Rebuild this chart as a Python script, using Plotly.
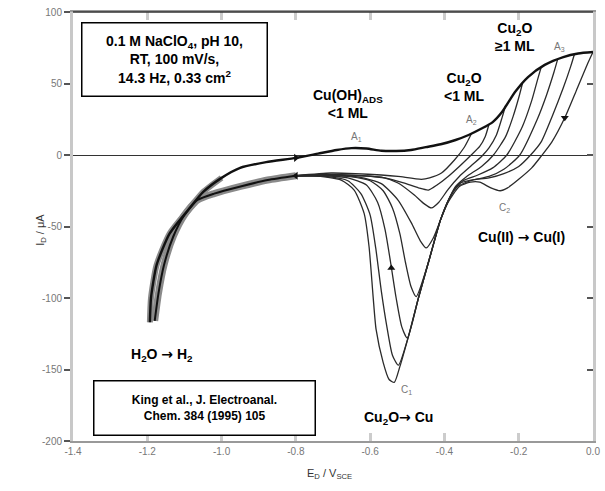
import plotly.graph_objects as go

# ---------------- data ----------------
# common anodic (forward) sweep envelope
E_ENV = [-1.193, -1.19, -1.175, -1.14, -1.09, -1.05, -1.0, -0.95, -0.88, -0.8, -0.74, -0.69,
         -0.65, -0.61, -0.57, -0.53, -0.49, -0.45, -0.41, -0.37, -0.335, -0.3, -0.27, -0.245,
         -0.21, -0.175, -0.13, -0.08, -0.04, 0.0]
I_ENV = [-117, -100, -77, -55, -38.5, -26, -16, -9, -5, -2, 1, 3.5,
         4.8, 4.5, 3, 2.8, 3.5, 5.5, 7.5, 10.5, 14, 18.5, 23, 30,
         44, 54.5, 63, 68.5, 71, 72]

# common cathodic return tail (below -0.8 V)
E_TAIL = [-0.8, -0.876, -0.949, -1.02, -1.065, -1.1, -1.13, -1.155, -1.17, -1.18]
I_TAIL = [-14.5, -17.5, -22, -27, -31.5, -42, -57, -77, -97, -116]

# return (cathodic) branches for the different anodic limits
E_RET_A = [-0.327, -0.346, -0.373, -0.408, -0.44, -0.462, -0.525, -0.57, -0.64, -0.705, -0.8]
I_RET_A = [15, 5.6, -3.5, -12.6, -16, -17, -15, -14, -13, -12.6, -14.5]

E_RET_B = [-0.28, -0.29, -0.305, -0.332, -0.36, -0.39, -0.42, -0.443, -0.47, -0.51, -0.56, -0.62, -0.7, -0.8]
I_RET_B = [21.5, 13, 6, -1, -8, -15, -21, -24.5, -23, -19.5, -16, -14.5, -13.5, -14.5]

E_RET_C = [-0.235, -0.245, -0.26, -0.28, -0.3, -0.33, -0.36, -0.39, -0.415, -0.435, -0.455, -0.481,
           -0.525, -0.57, -0.63, -0.7, -0.8]
I_RET_C = [35, 26, 14, 5, -1, -8, -15, -24, -33, -37, -34, -28, -19.6, -15.5, -14.5, -14, -14.5]

E_RET_D = [-0.19, -0.2, -0.215, -0.235, -0.268, -0.3, -0.34, -0.37, -0.39, -0.41, -0.43, -0.449,
           -0.465, -0.489, -0.525, -0.57, -0.63, -0.7, -0.8]
I_RET_D = [50, 40, 27, 13, 0, -8, -15, -22, -32, -45, -58, -65,
           -60, -47.5, -31.5, -20, -15.5, -14, -14.5]

E_RET_E = [-0.14, -0.15, -0.165, -0.19, -0.232, -0.27, -0.31, -0.35, -0.38, -0.41, -0.443, -0.476,
           -0.49, -0.505, -0.52, -0.54, -0.565, -0.6, -0.66, -0.72, -0.8]
I_RET_E = [61, 52, 38, 20, 0, -9, -14, -18, -27, -45, -75, -99,
           -92, -75, -55, -37, -25, -18, -15, -14, -14.5]

E_RET_F = [-0.095, -0.105, -0.125, -0.15, -0.197, -0.24, -0.28, -0.33, -0.37, -0.41, -0.443, -0.47,
           -0.5, -0.515, -0.53, -0.545, -0.56, -0.58, -0.61, -0.66, -0.72, -0.8]
I_RET_F = [67, 58, 42, 25, 0, -10, -15, -18, -23, -45, -75, -100,
           -128, -120, -100, -75, -52, -33, -21, -16, -14.5, -14.5]

E_RET_G = [-0.05, -0.06, -0.08, -0.11, -0.14, -0.168, -0.2, -0.24, -0.28, -0.327, -0.36, -0.39,
           -0.41, -0.443, -0.47, -0.497, -0.524, -0.54, -0.555, -0.57, -0.585, -0.6, -0.625,
           -0.66, -0.72, -0.8]
I_RET_G = [70.5, 62, 47, 27, 9, 0, -8, -13, -16, -17.5, -20, -32,
           -45, -75, -100, -127, -147, -140, -120, -95, -65, -42, -27,
           -18, -15, -14.5]

E_RET_H = [0.0, -0.016, -0.045, -0.076, -0.111, -0.14, -0.165, -0.2, -0.23, -0.25, -0.275, -0.305,
           -0.33, -0.36, -0.39, -0.41, -0.443, -0.47, -0.497, -0.52, -0.535, -0.549, -0.565,
           -0.584, -0.592, -0.603, -0.616, -0.643, -0.678, -0.75, -0.8]
I_RET_H = [72, 63, 45, 26, 9, -1, -9, -17, -23, -25, -23, -19,
           -19, -22, -33, -45, -75, -100, -127, -148, -159, -157, -145,
           -122, -99, -64, -41, -24.5, -17.5, -14.5, -14.5]

RETURNS = [(E_RET_A, I_RET_A), (E_RET_B, I_RET_B), (E_RET_C, I_RET_C), (E_RET_D, I_RET_D),
           (E_RET_E, I_RET_E), (E_RET_F, I_RET_F), (E_RET_G, I_RET_G), (E_RET_H, I_RET_H)]

# direction arrows on the curves
ARROW_E = [-0.8, -0.8, -0.076, -0.543]
ARROW_I = [-2, -14.5, 26, -79]
ARROW_SYM = ["triangle-right", "triangle-left", "triangle-down", "triangle-up"]

X_TICKS = [-1.4, -1.2, -1.0, -0.8, -0.6, -0.4, -0.2, 0.0]
X_TICK_TEXT = ["-1.4", "-1.2", "-1.0", "-0.8", "-0.6", "-0.4", "-0.2", "0.0"]
Y_TICKS = [100, 50, 0, -50, -100, -150, -200]
Y_TICK_TEXT = ["100", "50", "0", "-50", "-100", "-150", "-200"]

# ---------------- figure ----------------
fig = go.Figure()
LINE = "#2a2a2a"

# gray fuzz of the overlapping cathodic tails
fig.add_trace(go.Scatter(x=E_TAIL, y=I_TAIL, mode="lines",
                         line=dict(color="#8a8a8a", width=7, shape="spline", smoothing=0.6),
                         hoverinfo="skip", showlegend=False))
fig.add_trace(go.Scatter(x=E_ENV[:7], y=I_ENV[:7], mode="lines",
                         line=dict(color="#8a8a8a", width=6, shape="spline", smoothing=0.6),
                         hoverinfo="skip", showlegend=False))

for e, i in RETURNS:
    fig.add_trace(go.Scatter(x=e, y=i, mode="lines", line=dict(color=LINE, width=1.3, shape="spline", smoothing=0.6),
                             hoverinfo="skip", showlegend=False))

fig.add_trace(go.Scatter(x=E_TAIL, y=I_TAIL, mode="lines",
                         line=dict(color="#111", width=2, shape="spline", smoothing=0.6),
                         hoverinfo="skip", showlegend=False))
fig.add_trace(go.Scatter(x=E_ENV, y=I_ENV, mode="lines",
                         line=dict(color="#111", width=2.4, shape="spline", smoothing=0.6),
                         hoverinfo="skip", showlegend=False))

fig.add_trace(go.Scatter(x=ARROW_E, y=ARROW_I, mode="markers",
                         marker=dict(symbol=ARROW_SYM, size=7, color="#111"),
                         hoverinfo="skip", showlegend=False))

FONT = "Liberation Sans, Arial, sans-serif"
TICKFONT = dict(family=FONT, size=10, color="#777")

fig.update_layout(
    width=605, height=491,
    margin=dict(l=73, r=12, t=12, b=50),
    paper_bgcolor="white", plot_bgcolor="white",
    xaxis=dict(range=[-1.4, 0.0], tickvals=X_TICKS, ticktext=X_TICK_TEXT, tickfont=TICKFONT,
               ticks="inside", ticklen=8, tickwidth=3, tickcolor="#ccc", automargin=False,
               showline=True, linecolor="#999", linewidth=2, mirror="ticks",
               showgrid=False, zeroline=False),
    yaxis=dict(range=[-200, 100], tickvals=Y_TICKS, ticktext=Y_TICK_TEXT, tickfont=TICKFONT,
               ticks="outside", ticklen=6, tickwidth=1.5, tickcolor="#555", automargin=False,
               showline=True, linecolor="#c8c8c8", linewidth=3,
               showgrid=False, zeroline=True, zerolinecolor="#333", zerolinewidth=1),
    yaxis2=dict(range=[-200, 100], overlaying="y", side="right", tickvals=Y_TICKS, automargin=False,
                showticklabels=False, ticks="inside", ticklen=6, tickwidth=1.5, tickcolor="#555",
                showline=True, linecolor="#c8c8c8", linewidth=3, showgrid=False, zeroline=False),
)
# invisible trace so yaxis2 is drawn
fig.add_trace(go.Scatter(x=[None], y=[None], yaxis="y2", showlegend=False, hoverinfo="skip"))

# top frame line (dark)
fig.add_shape(type="line", xref="paper", yref="paper", x0=0, x1=1, y0=1, y1=1,
              line=dict(color="#333", width=1.5))

BOLD = dict(family=FONT, size=14, color="black")
SMALL = dict(family=FONT, size=10, color="#777")
ARR = '<span style="font-family:DejaVu Sans">→</span>'

def label(text, x, y, font=BOLD):
    fig.add_annotation(x=x, y=y, xref="x", yref="y", text=text, showarrow=False, font=font,
                       align="center")

label("<b>Cu(OH)<sub>ADS</sub><br>&lt;1 ML</b>", -0.66, 35.5)
label("<b>Cu<sub>2</sub>O<br>&lt;1 ML</b>", -0.346, 47.5)
label("<b>Cu<sub>2</sub>O<br>≥1 ML</b>", -0.211, 82.5)
label("<b>Cu(II) " + ARR + " Cu(I)</b>", -0.192, -57)
label("<b>Cu<sub>2</sub>O" + ARR + " Cu</b>", -0.525, -184)
label("<b>H<sub>2</sub>O " + ARR + " H<sub>2</sub></b>", -1.16, -140)

label("A<sub>1</sub>", -0.638, 12.6, SMALL)
label("A<sub>2</sub>", -0.327, 24.5, SMALL)
label("A<sub>3</sub>", -0.089, 75.5, SMALL)
label("C<sub>2</sub>", -0.238, -37, SMALL)
label("C<sub>1</sub>", -0.503, -164, SMALL)

fig.add_annotation(xref="paper", yref="paper", x=0.195, y=0.890, xanchor="center", yanchor="middle",
                   text="<b>0.1 M NaClO<sub>4</sub>, pH 10,<br>RT, 100 mV/s,<br>14.3 Hz, 0.33 cm<sup>2</sup></b>",
                   showarrow=False, font=BOLD, align="center", bgcolor="white",
                   bordercolor="black", borderwidth=1.5, borderpad=0, width=184, height=72)
fig.add_annotation(xref="paper", yref="paper", x=0.253, y=0.0758, xanchor="center", yanchor="middle",
                   text="<b>King et al., J. Electroanal.<br>Chem. 384 (1995) 105</b>",
                   showarrow=False, font=dict(family=FONT, size=12, color="black"), align="center",
                   bgcolor="white", bordercolor="black", borderwidth=1.5, borderpad=0, width=220, height=53)

# axis titles
fig.add_annotation(xref="paper", yref="paper", x=-0.079, y=0.492, text="I<sub>D</sub> / μA",
                   textangle=-90, showarrow=False, font=dict(family=FONT, size=11, color="#333"))
fig.add_annotation(xref="paper", yref="paper", x=0.494, y=-0.098, text="E<sub>D</sub> / V<sub>SCE</sub>",
                   showarrow=False, font=dict(family=FONT, size=11, color="#333"))

fig.write_html("out.html", config={"displayModeBar": False},
               post_script="document.body.style.margin='0';")
